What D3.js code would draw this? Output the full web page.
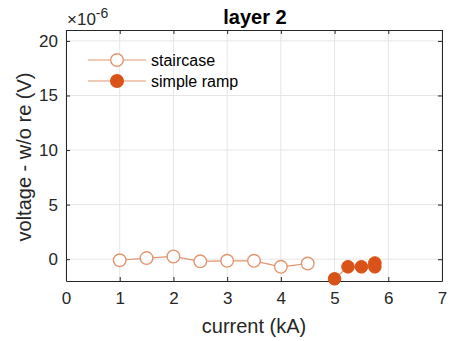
<!DOCTYPE html>
<html><head><meta charset="utf-8">
<script src="https://cdn.jsdelivr.net/npm/d3@7"></script>
<style>body{margin:0;background:#fff}svg{display:block;font-family:"Liberation Sans",Arial,sans-serif}</style>
</head><body>
<svg id="c" width="452" height="341"></svg>
<script>
const staircaseX = [1, 1.5, 2, 2.5, 3, 3.5, 4, 4.5];
const staircaseY = [-0.1, 0.1, 0.25, -0.2, -0.15, -0.15, -0.7, -0.4];
const rampX = [5, 5.25, 5.5, 5.75, 5.75];
const rampY = [-1.8, -0.7, -0.7, -0.35, -0.7];
const xTicks = [0, 1, 2, 3, 4, 5, 6, 7];
const yTicks = [0, 5, 10, 15, 20];
const seriesNames = ["staircase", "simple ramp"];

const svg = d3.select("#c");
const L = 66, R = 442, T = 30, B = 281;
const x = d3.scaleLinear().domain([0, 7]).range([L, R]);
const y = d3.scaleLinear().domain([-2, 21]).range([B, T]);
const lineCol = "#e3956f", mk = "#d95319", axCol = "#262626", gridCol = "#e6e6e6";
const FF = "Liberation Sans, Arial, sans-serif";

// grid
const g = svg.append("g");
g.selectAll(".gx").data(xTicks).join("line").attr("x1", d => x(d)).attr("x2", d => x(d))
  .attr("y1", T).attr("y2", B).attr("stroke", gridCol);
g.selectAll(".gy").data(yTicks).join("line").attr("y1", d => y(d)).attr("y2", d => y(d))
  .attr("x1", L).attr("x2", R).attr("stroke", gridCol);

// axes
const fs = 17;
const style = s => { s.select(".domain").attr("stroke", axCol); s.selectAll("line").attr("stroke", axCol);
  s.selectAll("text").attr("fill", axCol).attr("font-size", fs).attr("font-family", FF); };
svg.append("g").attr("transform", `translate(0,${B})`)
  .call(d3.axisBottom(x).tickValues(xTicks).tickFormat(d3.format("d")).tickSizeInner(-4).tickSizeOuter(0).tickPadding(11))
  .call(style);
svg.append("g").attr("transform", `translate(0,${T})`)
  .call(d3.axisTop(x).tickValues(xTicks).tickSizeInner(-4).tickSizeOuter(0).tickFormat(""))
  .call(style);
svg.append("g").attr("transform", `translate(${L},0)`)
  .call(d3.axisLeft(y).tickValues(yTicks).tickFormat(d3.format("d")).tickSizeInner(-4).tickSizeOuter(0).tickPadding(8))
  .call(style);
svg.append("g").attr("transform", `translate(${R},0)`)
  .call(d3.axisRight(y).tickValues(yTicks).tickSizeInner(-4).tickSizeOuter(0).tickFormat(""))
  .call(style);

// data
const st = staircaseX.map((d, i) => [d, staircaseY[i]]);
const rp = rampX.map((d, i) => [d, rampY[i]]);
const line = d3.line().x(d => x(d[0])).y(d => y(d[1]));
svg.append("path").attr("d", line(st)).attr("fill", "none").attr("stroke", lineCol).attr("stroke-width", 1.2);
svg.append("path").attr("d", line(rp)).attr("fill", "none").attr("stroke", lineCol).attr("stroke-width", 1.2);
svg.selectAll(".s").data(st).join("circle").attr("cx", d => x(d[0])).attr("cy", d => y(d[1])).attr("r", 6.3)
  .attr("fill", "#fff").attr("stroke", lineCol).attr("stroke-width", 1.4);
svg.selectAll(".r").data(rp).join("circle").attr("cx", d => x(d[0])).attr("cy", d => y(d[1])).attr("r", 6.3)
  .attr("fill", mk).attr("stroke", mk).attr("stroke-width", 1);

// legend
const lg = svg.append("g");
seriesNames.forEach((n, i) => {
  const ly = 60 + i * 21;
  lg.append("line").attr("x1", 88).attr("x2", 146).attr("y1", ly).attr("y2", ly).attr("stroke", lineCol).attr("stroke-width", 1.2);
  lg.append("circle").attr("cx", 117).attr("cy", ly).attr("r", 6.3)
    .attr("fill", i === 0 ? "#fff" : mk).attr("stroke", i === 0 ? lineCol : mk).attr("stroke-width", 1.4);
  lg.append("text").attr("x", 151).attr("y", ly + 6).attr("font-size", 16).attr("font-family", FF).attr("fill", "#000").text(n);
});

// labels
svg.append("text").attr("x", 255).attr("y", 24).attr("text-anchor", "middle").attr("font-weight", "bold")
  .attr("font-size", 20).attr("font-family", FF).attr("fill", "#000").text("layer 2");
const ex = svg.append("text").attr("x", 67).attr("y", 25).attr("font-size", 17).attr("font-family", FF).attr("fill", axCol);
ex.append("tspan").text("\u00d710");
ex.append("tspan").attr("dy", -7).attr("font-size", 14).text("-6");
svg.append("text").attr("x", 254).attr("y", 333).attr("text-anchor", "middle").attr("font-size", 20)
  .attr("font-family", FF).attr("fill", axCol).text("current (kA)");
svg.append("text").attr("transform", `translate(31,157) rotate(-90)`).attr("text-anchor", "middle")
  .attr("font-size", 20).attr("font-family", FF).attr("fill", axCol).text("voltage - w/o re (V)");
</script>
</body></html>
